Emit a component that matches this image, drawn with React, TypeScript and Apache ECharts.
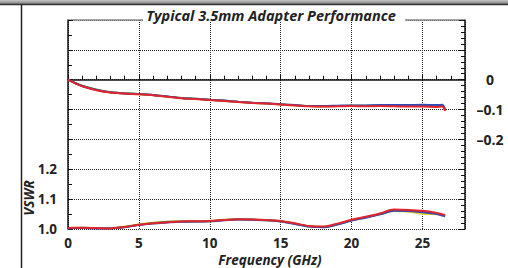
import React, { useEffect, useRef } from "react";
import * as echarts from "echarts";

const freq = [0, 0.5, 1, 2, 3, 4, 5, 6, 7, 8, 9, 10, 11, 12, 13, 14, 15, 16, 17, 18, 19, 20, 21, 22, 23, 24, 25, 26, 26.4, 26.6];

// Insertion loss (dB), right axis
const lossRed = [0.0, -0.012, -0.022, -0.035, -0.043, -0.046, -0.049, -0.052, -0.057, -0.062, -0.065, -0.068, -0.071, -0.075, -0.078, -0.080, -0.083, -0.086, -0.089, -0.090, -0.089, -0.088, -0.089, -0.088, -0.089, -0.090, -0.090, -0.091, -0.090, -0.104];
const lossBlue = [0.0, -0.011, -0.021, -0.034, -0.042, -0.046, -0.048, -0.051, -0.056, -0.061, -0.064, -0.067, -0.070, -0.074, -0.077, -0.079, -0.082, -0.085, -0.088, -0.088, -0.087, -0.086, -0.086, -0.085, -0.085, -0.085, -0.084, -0.085, -0.084, -0.102];
const lossGreen = [0.0, -0.011, -0.020, -0.033, -0.042, -0.045, -0.048, -0.051, -0.056, -0.061, -0.064, -0.067, -0.070, -0.074, -0.077, -0.080, -0.082, -0.085, -0.088, -0.089, -0.088, -0.087, -0.087, -0.086, -0.086, -0.087, -0.086, -0.087, -0.086, -0.103];
const lossYellow = [0.0, -0.012, -0.021, -0.034, -0.043, -0.046, -0.049, -0.052, -0.057, -0.061, -0.065, -0.068, -0.071, -0.075, -0.078, -0.080, -0.083, -0.086, -0.088, -0.089, -0.088, -0.087, -0.088, -0.087, -0.087, -0.088, -0.088, -0.089, -0.088, -0.103];

// VSWR, left axis
const vswrRed = [1.003, 1.004, 1.004, 1.003, 1.002, 1.007, 1.014, 1.019, 1.023, 1.025, 1.026, 1.027, 1.030, 1.033, 1.032, 1.030, 1.027, 1.019, 1.010, 1.008, 1.018, 1.031, 1.041, 1.052, 1.065, 1.064, 1.061, 1.054, 1.049, 1.047];
const vswrBlue = [1.002, 1.003, 1.003, 1.002, 1.002, 1.006, 1.013, 1.018, 1.022, 1.024, 1.025, 1.026, 1.029, 1.032, 1.031, 1.029, 1.025, 1.017, 1.008, 1.006, 1.015, 1.028, 1.038, 1.049, 1.061, 1.060, 1.056, 1.050, 1.045, 1.043];
const vswrGreen = [1.003, 1.003, 1.004, 1.003, 1.002, 1.007, 1.014, 1.020, 1.024, 1.025, 1.025, 1.026, 1.030, 1.033, 1.032, 1.029, 1.026, 1.018, 1.009, 1.007, 1.016, 1.029, 1.040, 1.050, 1.063, 1.062, 1.058, 1.052, 1.047, 1.045];
const vswrYellow = [1.003, 1.004, 1.004, 1.003, 1.003, 1.008, 1.015, 1.021, 1.024, 1.026, 1.026, 1.027, 1.031, 1.033, 1.032, 1.030, 1.026, 1.018, 1.009, 1.007, 1.016, 1.029, 1.039, 1.049, 1.060, 1.058, 1.051, 1.049, 1.046, 1.044];

const xTicks = [0, 5, 10, 15, 20, 25];
const leftLabels = ["1.0", "1.1", "1.2"];
const rightLabels = ["0", "-0.1", "-0.2"];

const traceColors = { yellow: "#f2d22a", green: "#3c9c3c", blue: "#2c4cba", red: "#e3242e" };

const FONT = "'Open Sans', 'Liberation Sans', sans-serif";

function pairs(ys: number[]) {
  return freq.map((f, i) => [f, ys[i]]);
}

export default function App() {
  const ref = useRef<HTMLDivElement>(null);
  useEffect(() => {
    if (!ref.current) return;
    const chart = echarts.init(ref.current, undefined, { renderer: "svg" });
    const dotted = { type: [1, 1] as any, color: "#222", width: 1 };
    const lineSeries = (name: string, ys: number[], color: string, yIdx: number) => ({
      name,
      type: "line",
      yAxisIndex: yIdx,
      data: pairs(ys),
      showSymbol: false,
      symbol: "none",
      smooth: 0.3,
      lineStyle: { color, width: 2 },
      z: 3,
    });
    chart.setOption({
      animation: false,
      backgroundColor: "#fff",
      grid: { left: 68, top: 20, right: 43, bottom: 39, show: false },
      xAxis: [
        {
          type: "value",
          position: "bottom",
          min: 0,
          max: 28,
          interval: 5,
          axisLine: { show: true, lineStyle: { color: "#111", width: 1.5 } },
          axisTick: { show: true, inside: true, length: 5, lineStyle: { color: "#111" } },
          minorTick: { show: true, splitNumber: 5, length: 4, lineStyle: { color: "#111" } },
          splitLine: { show: true, lineStyle: dotted },
          axisLabel: {
            margin: 7,
            fontSize: 13.5,
            lineHeight: 14,
            fontWeight: "bold",
            fontFamily: FONT,
            color: "#222",
            formatter: (v: number) => (xTicks.includes(Math.round(v)) ? String(Math.round(v)) : ""),
          },
        },
        {
          type: "value",
          position: "top",
          min: 0,
          max: 28,
          interval: 5,
          axisLine: { show: true, onZero: false, lineStyle: { color: "#8a8a8a", width: 1.5 } },
          axisTick: { show: false },
          axisLabel: { show: false },
          splitLine: { show: false },
        },
      ],
      yAxis: [
        {
          type: "value",
          position: "left",
          min: 1.0,
          max: 1.7,
          interval: 0.1,
          axisLine: { show: true, lineStyle: { color: "#111", width: 1.5 } },
          axisTick: { show: true, inside: true, length: 5, lineStyle: { color: "#111" } },
          minorTick: { show: true, splitNumber: 2, length: 4, lineStyle: { color: "#111" } },
          splitLine: { show: true, lineStyle: dotted },
          axisLabel: {
            margin: 11,
            fontSize: 13.5,
            fontWeight: "bold",
            fontFamily: FONT,
            color: "#222",
            formatter: (v: number) => {
              const s = v.toFixed(1);
              return leftLabels.includes(s) ? s : "";
            },
          },
        },
        {
          type: "value",
          position: "right",
          min: -0.5,
          max: 0.2,
          interval: 0.1,
          axisLine: { show: true, onZero: false, lineStyle: { color: "#111", width: 1.5 } },
          axisTick: { show: true, inside: true, length: 6, lineStyle: { color: "#111" } },
          minorTick: { show: true, splitNumber: 5, length: 4, lineStyle: { color: "#111" } },
          splitLine: { show: false },
          axisLabel: {
            margin: 25,
            align: "center",
            fontSize: 14,
            fontWeight: "bold",
            fontFamily: FONT,
            color: "#222",
            formatter: (v: number) => {
              const r = Math.round(v * 10) / 10;
              const s = r === 0 ? "0" : r.toFixed(1);
              return rightLabels.includes(s) ? s.replace("-", "\u2013") : "";
            },
          },
        },
      ],
      series: [
        lineSeries("Loss yellow", lossYellow, traceColors.yellow, 1),
        lineSeries("Loss green", lossGreen, traceColors.green, 1),
        lineSeries("Loss blue", lossBlue, traceColors.blue, 1),
        lineSeries("Loss red", lossRed, traceColors.red, 1),
        lineSeries("VSWR yellow", vswrYellow, traceColors.yellow, 0),
        lineSeries("VSWR green", vswrGreen, traceColors.green, 0),
        lineSeries("VSWR blue", vswrBlue, traceColors.blue, 0),
        lineSeries("VSWR red", vswrRed, traceColors.red, 0),
      ],
      graphic: [
        {
          type: "rect",
          shape: { x: 0, y: 0, width: 508, height: 4 },
          style: {
            fill: new echarts.graphic.LinearGradient(0, 0, 0, 1, [
              { offset: 0, color: "#c8c8c8" },
              { offset: 1, color: "#7a7a7a" },
            ]),
          },
          z: 10,
        },
        { type: "line", shape: { x1: 0, y1: 4.5, x2: 508, y2: 4.5 }, style: { stroke: "#333", lineWidth: 1.5 }, z: 10 },
        { type: "line", shape: { x1: 21.5, y1: 5, x2: 21.5, y2: 268 }, style: { stroke: "#222", lineWidth: 1.5 }, z: 10 },
        { type: "rect", shape: { x: 143, y: 7, width: 262, height: 14 }, style: { fill: "#fff" }, z: 10 },
        {
          type: "text",
          x: 271,
          y: 15,
          z: 11,
          style: {
            text: "Typical 3.5mm Adapter Performance",
            fontSize: 14.5,
            fontWeight: "bold",
            fontStyle: "italic",
            fontFamily: FONT,
            fill: "#222",
            textAlign: "center",
            textVerticalAlign: "middle",
          },
        },
        {
          type: "text",
          x: 29,
          y: 198,
          rotation: Math.PI / 2,
          z: 11,
          style: {
            text: "VSWR",
            fontSize: 13.5,
            fontWeight: "bold",
            fontStyle: "italic",
            fontFamily: FONT,
            fill: "#222",
            textAlign: "center",
            textVerticalAlign: "middle",
          },
        },
        {
          type: "text",
          x: 270,
          y: 260,
          z: 11,
          style: {
            text: "Frequency (GHz)",
            fontSize: 13.5,
            lineHeight: 14,
            fontWeight: "bold",
            fontStyle: "italic",
            fontFamily: FONT,
            fill: "#222",
            textAlign: "center",
            textVerticalAlign: "middle",
          },
        },
      ],
    });
    return () => chart.dispose();
  }, []);
  return <div ref={ref} style={{ position: "fixed", left: 0, top: 0, width: 508, height: 268 }} />;
}
